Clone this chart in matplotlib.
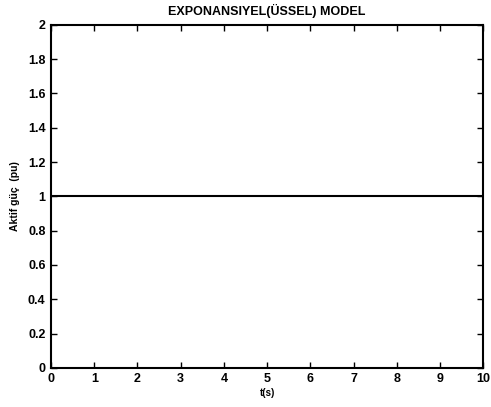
import numpy as np
import matplotlib
matplotlib.use("Agg")
import matplotlib.pyplot as plt

plt.rcParams['font.family'] = ['Liberation Sans', 'DejaVu Sans']
plt.rcParams['font.weight'] = 'bold'

# time axis (s) and active power (pu)
t = [0, 10]
p = [1, 1]
x_ticks = [0, 1, 2, 3, 4, 5, 6, 7, 8, 9, 10]
y_ticks = [0, 0.2, 0.4, 0.6, 0.8, 1, 1.2, 1.4, 1.6, 1.8, 2]
y_tick_labels = ['0', '0.2', '0.4', '0.6', '0.8', '1', '1.2', '1.4', '1.6', '1.8', '2']

fig = plt.figure(figsize=(4.91, 4.07), dpi=100)
ax = fig.add_axes([0.104, 0.096, 0.880, 0.843])
ax.plot(t, p, color='black', linewidth=1.5)
ax.set_xlim(0, 10)
ax.set_ylim(0, 2)
ax.set_xticks(x_ticks)
ax.set_yticks(y_ticks)
ax.set_yticklabels(y_tick_labels)
ax.tick_params(direction='in', top=True, right=True, length=4, width=1,
               labelsize=9, pad=4)
for lab in ax.get_xticklabels() + ax.get_yticklabels():
    lab.set_fontweight('bold')
for s in ax.spines.values():
    s.set_linewidth(1.5)
ax.set_title('EXPONANSIYEL(ÜSSEL) MODEL', fontsize=9, fontweight='bold', pad=7)
ax.set_xlabel('t(s)', fontsize=7, fontweight='bold', labelpad=2)
ax.set_ylabel('Aktif güç  (pu)', fontsize=7.5, fontweight='bold', labelpad=6)

fig.savefig('out.png', dpi=100)
